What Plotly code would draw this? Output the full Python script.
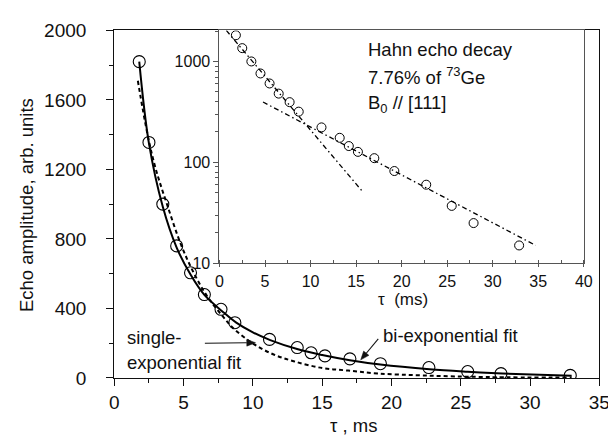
import math
import plotly.graph_objects as go

W, H = 616, 440

# Measured data: echo amplitude vs tau (ms)
tau = [1.8, 2.5, 3.5, 4.5, 5.5, 6.5, 7.7, 8.7, 11.2, 13.2, 14.2, 15.2, 17.0, 19.2, 22.7, 25.5, 27.9, 32.9]
amp = [1820, 1355, 1000, 760, 605, 480, 395, 318, 222, 175, 145, 127, 110, 82, 60, 37, 25, 15]

# Bi-exponential fit curve
bi_tau = [1.8, 2.5, 3.5, 4.5, 5.5, 6.5, 7.8, 8.8, 10.0, 11.25, 13.25, 15.0, 17.0, 19.2, 22.75, 25.5, 28.0, 33.0]
bi_amp = [1820, 1350, 985, 750, 595, 478, 383, 318, 262, 218, 165, 132, 102, 77, 50, 36, 26, 12]

# Single-exponential fit curve
se_tau = [1.7, 2.4, 3.0, 3.8, 4.8, 5.7, 6.7, 7.8, 8.6, 10.0, 11.5, 13.0, 15.0, 16.8, 19.0, 22.4, 27.0, 33.0]
se_amp = [1710, 1400, 1200, 1000, 770, 610, 470, 357, 285, 198, 135, 95, 57, 43, 26, 14, 5, 2]

# Inset straight-line components (log scale)
fast_tau = [0.75, 15.65]
fast_amp = [2030, 52]
slow_tau = [4.78, 34.73]
slow_amp = [396, 15.0]

# Tick labels
main_xticks = [0, 5, 10, 15, 20, 25, 30, 35]
main_yticks = [0, 400, 800, 1200, 1600, 2000]
inset_xticks = [0, 5, 10, 15, 20, 25, 30, 35, 40]
inset_yticks = [10, 100, 1000]
inset_yticktext = ["10", "100", "1000"]

FONT = "Liberation Sans, Arial, sans-serif"


def px(x):
    return x / W


def py(y):
    return 1 - y / H


fig = go.Figure()

# Main plot
fig.add_trace(go.Scatter(x=se_tau, y=se_amp, mode="lines",
                         line=dict(color="black", width=2, dash="4px,3px", shape="spline"),
                         xaxis="x", yaxis="y", showlegend=False))
fig.add_trace(go.Scatter(x=bi_tau, y=bi_amp, mode="lines",
                         line=dict(color="black", width=2, shape="spline"),
                         xaxis="x", yaxis="y", showlegend=False))
fig.add_trace(go.Scatter(x=tau, y=amp, mode="markers",
                         marker=dict(symbol="circle-open", size=12, color="black",
                                     line=dict(width=1.1, color="black")),
                         xaxis="x", yaxis="y", showlegend=False))

# Inset
DASHDOT = "5px,3px,1.5px,3px"
fig.add_trace(go.Scatter(x=fast_tau, y=fast_amp, mode="lines",
                         line=dict(color="black", width=1.3, dash=DASHDOT),
                         xaxis="x2", yaxis="y2", showlegend=False))
fig.add_trace(go.Scatter(x=slow_tau, y=slow_amp, mode="lines",
                         line=dict(color="black", width=1.3, dash=DASHDOT),
                         xaxis="x2", yaxis="y2", showlegend=False))
fig.add_trace(go.Scatter(x=tau, y=amp, mode="markers",
                         marker=dict(symbol="circle-open", size=9, color="black",
                                     line=dict(width=1, color="black")),
                         xaxis="x2", yaxis="y2", showlegend=False))

axis_main = dict(showgrid=False, zeroline=False, showline=True, linecolor="#111", linewidth=1.3,
                 mirror=True, ticks="outside", ticklen=7, tickwidth=1.2, tickcolor="#111",
                 tickfont=dict(family=FONT, size=19, color="#111"))

fig.update_layout(
    width=W, height=H,
    margin=dict(l=0, r=0, t=0, b=0),
    paper_bgcolor="white", plot_bgcolor="white",
    xaxis=dict(axis_main, domain=[px(104), px(602)], range=[0, 35], tickvals=main_xticks, anchor="y",
               minor=dict(dtick=2.5, ticks="outside", ticklen=4, tickcolor="#111")),
    yaxis=dict(axis_main, domain=[py(378), py(13)], range=[0, 2000], tickvals=main_yticks, anchor="x",
               ticklabelstandoff=16,
               minor=dict(dtick=200, ticks="outside", ticklen=4, tickcolor="#111")),
    xaxis2=dict(showgrid=False, zeroline=False, showline=True, linecolor="#555", linewidth=1.2, mirror=True,
                domain=[px(212), px(586)], range=[0, 40], tickvals=inset_xticks, anchor="y2",
                ticks="outside", ticklen=3, tickcolor="#555",
                minor=dict(dtick=2.5, ticks="inside", ticklen=3, tickcolor="#555"),
                tickfont=dict(family=FONT, size=16, color="#111")),
    yaxis2=dict(type="log", showgrid=False, zeroline=False, showline=True, linecolor="#555", linewidth=1.2,
                mirror=True, domain=[py(257.5), py(13)], range=[1, 3.308], anchor="x2",
                tickvals=inset_yticks, ticktext=inset_yticktext,
                ticks="outside", ticklen=5, tickcolor="#555",
                minor=dict(tickvals=[20, 30, 40, 50, 60, 70, 80, 90, 200, 300, 400, 500, 600, 700, 800, 900, 2000],
                           ticks="outside", ticklen=3, tickcolor="#555"),
                tickfont=dict(family=FONT, size=16, color="#111")),
)


def text_ann(x, y, text, size=18.5, xanchor="left", yanchor="middle", angle=0):
    return dict(x=px(x), y=py(y), xref="paper", yref="paper", text=text, showarrow=False,
                xanchor=xanchor, yanchor=yanchor, textangle=angle,
                font=dict(family=FONT, size=size, color="#111"))


anns = [
    text_ann(1, 196, "Echo amplitude, arb. units", xanchor="left", angle=-90),
    text_ann(350, 428, "\u03c4 , ms", xanchor="center"),
    text_ann(400, 296, "\u03c4  (ms)", size=17, xanchor="center"),
    text_ann(115, 335, "single-"),
    text_ann(115, 362, "exponential fit"),
    text_ann(378, 333, "bi-exponential fit"),
    text_ann(362, 33, "Hahn echo decay"),
    text_ann(362, 61, "7.76% of <sup>73</sup>Ge"),
    text_ann(362, 90, "B<sub>0</sub> // [111]"),
]
fig.update_layout(annotations=anns)


# Arrows drawn as shapes (line + filled head), in page pixels
def arrow(x0, y0, x1, y1, head=9, half=3.5):
    dx, dy = x1 - x0, y1 - y0
    L = math.hypot(dx, dy)
    ux, uy = dx / L, dy / L
    bx, by = x1 - ux * head, y1 - uy * head
    nx, ny = -uy * half, ux * half
    fig.add_shape(type="line", xref="paper", yref="paper",
                  x0=px(x0), y0=py(y0), x1=px(bx), y1=py(by),
                  line=dict(color="#111", width=1.1))
    path = "M {},{} L {},{} L {},{} Z".format(px(x1), py(y1), px(bx + nx), py(by + ny), px(bx - nx), py(by - ny))
    fig.add_shape(type="path", xref="paper", yref="paper", path=path,
                  fillcolor="#111", line=dict(color="#111", width=0.5))


arrow(197, 341.5, 249, 341)
arrow(375, 337, 357, 359)

fig.write_html("out.html")
